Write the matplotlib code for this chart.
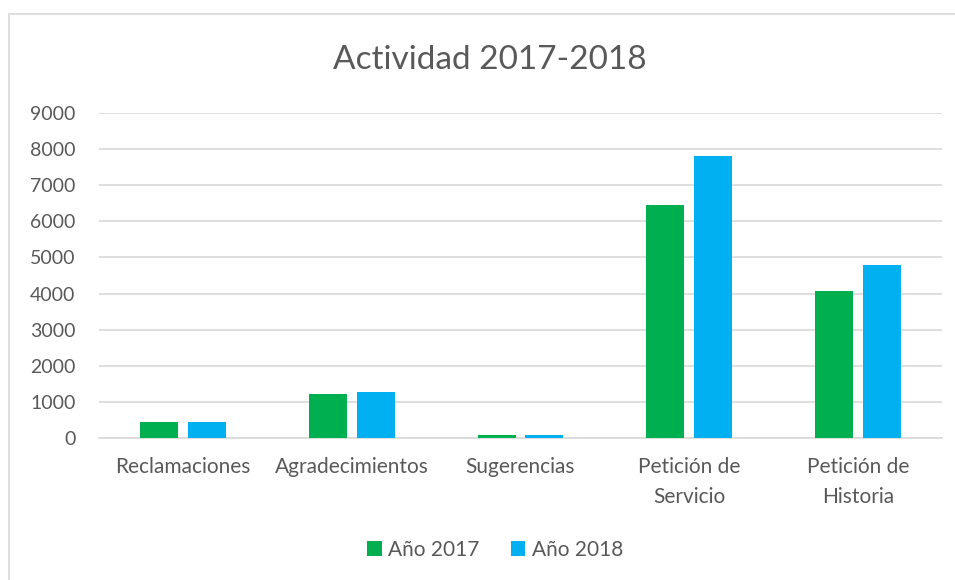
import matplotlib.pyplot as plt
import numpy as np
from matplotlib.patches import Rectangle

categorias = ['Reclamaciones', 'Agradecimientos', 'Sugerencias', 'Petición de\nServicio', 'Petición de\nHistoria']
anio_2017 = [430, 1230, 80, 6440, 4060]
anio_2018 = [440, 1280, 70, 7810, 4780]

verde = '#00B050'
azul = '#00B0F0'
gris_texto = '#595959'

plt.rcParams['font.family'] = ['Lato', 'DejaVu Sans']

fig = plt.figure(figsize=(9.55, 5.8), dpi=100)
ax = fig.add_axes([99 / 955, 1 - 438 / 580, 843 / 955, 325 / 580])

x = np.arange(len(categorias))
ancho = 0.225
sep = 0.142
ax.bar(x - sep, anio_2017, ancho, color=verde, label='Año 2017', zorder=3)
ax.bar(x + sep, anio_2018, ancho, color=azul, label='Año 2018', zorder=3)

ax.set_xlim(-0.5, len(categorias) - 0.5)
ax.set_ylim(0, 9000)
ax.set_yticks(range(0, 9001, 1000))
ax.yaxis.grid(True, color='#D9D9D9', linewidth=1.2, zorder=0)
ax.set_xticks(x)
ax.set_xticklabels(categorias, linespacing=1.6)
ax.tick_params(axis='x', length=0, labelsize=15, colors=gris_texto, pad=14)
ax.tick_params(axis='y', length=0, labelsize=14, colors=gris_texto, pad=17)
for s in ['top', 'right', 'left']:
    ax.spines[s].set_visible(False)
ax.spines['bottom'].set_color('#D9D9D9')
ax.spines['bottom'].set_linewidth(1.2)

fig.text(490 / 955, 1 - 60 / 580, 'Actividad 2017-2018', ha='center', va='center',
         fontsize=24, color=gris_texto)

fig.legend(loc='center', bbox_to_anchor=(495 / 955, 1 - 550 / 580), ncol=2, frameon=False,
           fontsize=15, labelcolor=gris_texto, handlelength=0.7, handleheight=0.7,
           handletextpad=0.3, columnspacing=1.5)

# marco del gráfico (solo se ven los bordes izquierdo y superior)
fig.patches.append(Rectangle((9 / 955, -0.1), 1.2, 1.1 - 14.5 / 580, transform=fig.transFigure,
                             fill=False, edgecolor='#D9D9D9', linewidth=1.2))

fig.savefig('out.png', dpi=100)
